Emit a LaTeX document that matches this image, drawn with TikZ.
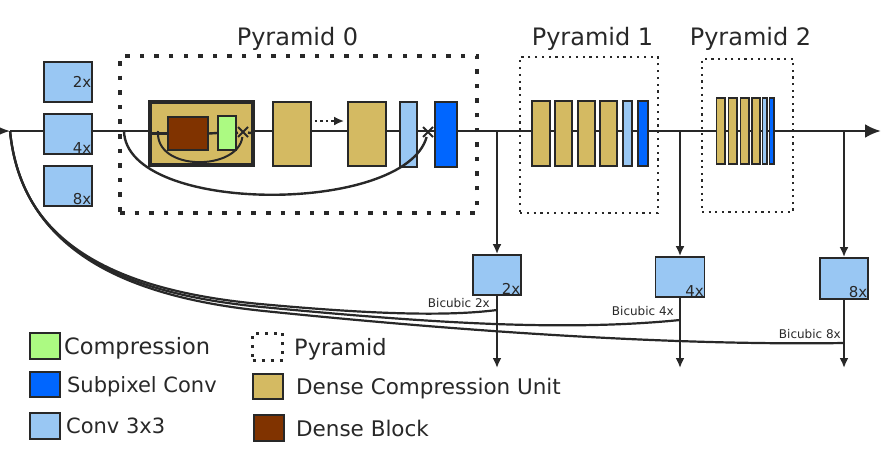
\documentclass[tikz,border=0pt]{standalone}
\usepackage{fontspec}
\setmainfont{DejaVu Sans}
\usetikzlibrary{arrows.meta}
\usetikzlibrary{positioning}
\usetikzlibrary{shapes.misc}

\definecolor{convblue}{RGB}{153,199,243}
\definecolor{subblue}{RGB}{0,102,255}
\definecolor{dcugold}{RGB}{212,186,98}
\definecolor{dbbrown}{RGB}{128,51,0}
\definecolor{cmpgreen}{RGB}{172,250,130}
\definecolor{ink}{RGB}{40,40,40}

\begin{document}
\begin{tikzpicture}[x=1pt,y=-1pt,
    box/.style={draw=ink,line width=1.8pt,inner sep=0pt},
    conv/.style={box,fill=convblue},
    subpix/.style={box,fill=subblue},
    dcu/.style={box,fill=dcugold},
    tag/.style={text=ink,inner sep=1.5pt,font=\fontsize{15}{15}\selectfont},
    bic/.style={text=ink,inner sep=1pt,font=\fontsize{12}{12}\selectfont},
    title/.style={text=ink,inner sep=0pt,anchor=base,font=\fontsize{24}{26}\selectfont},
    legtext/.style={text=ink,inner sep=0pt,text depth=0pt},
    wire/.style={ink,line width=2.2pt},
    down/.style={ink,line width=2pt,-{Latex[length=10pt,width=9pt]}},
    cross/.style={cross out,draw=ink,line width=2pt,minimum size=8pt,inner sep=0pt}
  ]
        \clip (0,0) rectangle (882,450);

        % main path
        \coordinate (in) at (10,131);
        \coordinate (out) at (881,131);
        \draw[ink,line width=2.8pt,-{Latex[length=16pt,width=14pt]}] (-20,131) -- (in);
        \draw[ink,line width=2.8pt,-{Latex[length=16pt,width=14pt]}] (in) -- (out);

        % input convs
        \node[conv,minimum width=48pt,minimum height=40pt] (in2) at (68,82) {};
        \node[tag,anchor=east] (in2tag) at (in2.east) {2x};
        \node[conv,minimum width=48pt,minimum height=40pt] (in4) at (68,134) {};
        \node[tag,anchor=south east] (in4tag) at (in4.south east) {4x};
        \node[conv,minimum width=48pt,minimum height=40pt] (in8) at (68,186) {};
        \node[tag,anchor=south east] (in8tag) at (in8.south east) {8x};

        % pyramid 0
        \node[draw=ink,line width=4.5pt,dash pattern=on 4.5pt off 10.1pt,minimum width=357pt,minimum height=157pt] (pyr0) at (298.5,134.5) {};
        \node[title] (pyr0lbl) at (297.5,45) {Pyramid 0};

        \node[dcu,line width=3.8pt,minimum width=103pt,minimum height=63pt] (dcu0a) at (201.5,133.5) {};
        \node[box,fill=dbbrown,minimum width=40pt,minimum height=33pt] (db0) at (188,133.5) {};
        \node[box,fill=cmpgreen,minimum width=18pt,minimum height=34pt] (cmp0) at (227,133) {};
        \node[cross] (add0) at (243,132) {};
        \draw[ink,line width=2.4pt] (dcu0a.west) -- (db0.west);
        \draw[ink,line width=2.4pt] (db0.east) -- (cmp0.west);
        \draw[ink,line width=2.4pt] (cmp0.east) -- (add0) -- (dcu0a.east);
        \coordinate (s0) at (158,131);
        \draw[ink,line width=2pt] (s0) .. controls (155,172) and (238,171) .. (add0);

        \node[dcu,minimum width=38pt,minimum height=64pt] (dcu0b) at (292,134) {};
        \node[dcu,minimum width=38pt,minimum height=64pt] (dcu0c) at (367,134) {};
        \draw[ink,line width=2.4pt,dash pattern=on 2.5pt off 3pt,-{Latex[length=10pt,width=9pt]}] ([xshift=3pt,yshift=13pt]dcu0b.east) -- ([xshift=-3pt,yshift=13pt]dcu0c.west);
        \node[conv,minimum width=17pt,minimum height=65pt] (conv0) at (408.5,134.5) {};
        \node[cross] (add1) at (428,132) {};
        \node[subpix,minimum width=22pt,minimum height=65pt] (sub0) at (446,134.5) {};
        \coordinate (s1) at (124,131);
        \draw[ink,line width=2.4pt] (s1) .. controls (126,215) and (405,215) .. (add1);

        % pyramid 1
        \node[draw=ink,line width=2.2pt,dash pattern=on 2.2pt off 4.6pt,minimum width=138pt,minimum height=156pt] (pyr1) at (589,135) {};
        \node[title] (pyr1lbl) at (592.5,45) {Pyramid 1};
        \node[dcu,minimum width=18pt,minimum height=65pt] (dcu1a) at (541,133.5) {};
        \node[dcu,minimum width=17pt,minimum height=65pt] (dcu1b) at (563.5,133.5) {};
        \node[dcu,minimum width=17pt,minimum height=65pt] (dcu1c) at (586.5,133.5) {};
        \node[dcu,minimum width=17pt,minimum height=65pt] (dcu1d) at (608.5,133.5) {};
        \node[conv,minimum width=9pt,minimum height=65pt] (conv1) at (627.5,133.5) {};
        \node[subpix,minimum width=10pt,minimum height=65pt] (sub1) at (643,133.5) {};

        % pyramid 2
        \node[draw=ink,line width=2.2pt,dash pattern=on 2.2pt off 4.4pt,minimum width=91pt,minimum height=153pt] (pyr2) at (747.5,135.5) {};
        \node[title] (pyr2lbl) at (750.5,45) {Pyramid 2};
        \node[dcu,line width=1.5pt,minimum width=8.5pt,minimum height=66pt] (dcu2a) at (720.5,131) {};
        \node[dcu,line width=1.5pt,minimum width=8.5pt,minimum height=66pt] (dcu2b) at (732.5,131) {};
        \node[dcu,line width=1.5pt,minimum width=8.5pt,minimum height=66pt] (dcu2c) at (744.5,131) {};
        \node[dcu,line width=1.5pt,minimum width=8pt,minimum height=66pt] (dcu2d) at (756,131) {};
        \node[conv,line width=1.5pt,minimum width=4.5pt,minimum height=66pt] (conv2) at (764.5,131) {};
        \node[subpix,line width=1.5pt,minimum width=4.5pt,minimum height=66pt] (sub2) at (771.5,131) {};

        % outputs
        \coordinate (tap2) at (497,131);
        \coordinate (tap4) at (680,131);
        \coordinate (tap8) at (844,131);
        \node[conv,minimum width=48pt,minimum height=40pt] (up2) at (497,275) {};
        \node[tag,anchor=south east] (up2tag) at (up2.south east) {2x};
        \node[conv,minimum width=49pt,minimum height=40pt] (up4) at (680,277) {};
        \node[tag,anchor=south east] (up4tag) at (up4.south east) {4x};
        \node[conv,minimum width=48pt,minimum height=41pt] (up8) at (844,278.5) {};
        \node[tag,anchor=south east] (up8tag) at (up8.south east) {8x};
        \draw[down] (tap2) -- (up2);
        \draw[down] (tap4) -- (up4);
        \draw[down] (tap8) -- (up8);
        \coordinate (res2) at (497,368);
        \coordinate (res4) at (680,368);
        \coordinate (res8) at (844,368);
        \draw[down] (up2) -- (res2);
        \draw[down] (up4) -- (res4);
        \draw[down] (up8) -- (res8);

        % bicubic paths
        \coordinate (bic2) at (497,310);
        \coordinate (bic4) at (680,320);
        \coordinate (bic8) at (844,343);
        \draw[wire] (in) .. controls (20,240) and (110,290) .. (260,304) .. controls (380,315) and (450,316) .. (bic2);
        \draw[wire] (in) .. controls (21,243) and (113,293) .. (262,307) .. controls (420,322) and (560,332) .. (bic4);
        \draw[wire] (in) .. controls (22,246) and (118,296) .. (264,311) .. controls (420,327) and (650,346) .. (bic8);
        \node[bic,anchor=south east,xshift=-6pt,yshift=1pt] (bic2lbl) at (bic2) {Bicubic 2x};
        \node[bic,anchor=south east,xshift=-5pt,yshift=3pt] (bic4lbl) at (bic4) {Bicubic 4x};
        \node[bic,anchor=south east,xshift=-2pt,yshift=3pt] (bic8lbl) at (bic8) {Bicubic 8x};

        % legend
        \node[box,fill=cmpgreen,minimum width=30pt,minimum height=26pt] (lgcmp) at (45,346) {};
        \node[legtext,right=3pt of lgcmp,font=\fontsize{22.5}{24}\selectfont] (lgcmptxt) {Compression};
        \node[subpix,minimum width=30pt,minimum height=25pt] (lgsub) at (45,384.5) {};
        \node[legtext,right=6pt of lgsub,font=\fontsize{21}{24}\selectfont] (lgsubtxt) {Subpixel Conv};
        \node[conv,minimum width=30pt,minimum height=26pt] (lgconv) at (45,426) {};
        \node[legtext,right=5pt of lgconv,font=\fontsize{21}{24}\selectfont] (lgconvtxt) {Conv 3x3};
        \node[draw=ink,line width=3pt,dash pattern=on 3pt off 6pt,minimum width=30pt,minimum height=27pt] (lgpyr) at (267.5,346.5) {};
        \node[legtext,right=10pt of lgpyr,font=\fontsize{22.5}{24}\selectfont] (lgpyrtxt) {Pyramid};
        \node[dcu,minimum width=30pt,minimum height=25pt] (lgdcu) at (268,386.5) {};
        \node[legtext,right=12pt of lgdcu,font=\fontsize{21.5}{24}\selectfont] (lgdcutxt) {Dense Compression Unit};
        \node[box,fill=dbbrown,minimum width=30pt,minimum height=26pt] (lgdb) at (269,428) {};
        \node[legtext,right=11pt of lgdb,font=\fontsize{21.5}{24}\selectfont] (lgdbtxt) {Dense Block};
    \end{tikzpicture}
\end{document}
